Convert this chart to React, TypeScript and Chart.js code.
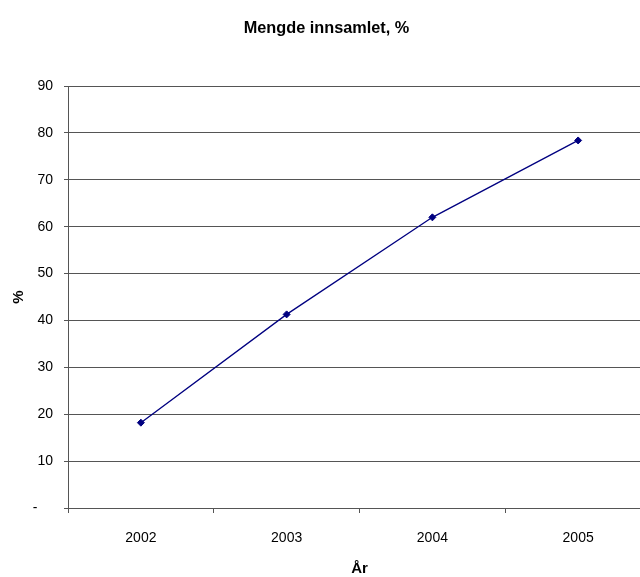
import React, { useEffect, useRef } from "react";
import { Chart, registerables } from "chart.js";

Chart.register(...registerables);

const TITLE = "Mengde innsamlet, %";
const CATEGORIES = ["2002", "2003", "2004", "2005"];
const VALUES = [18.2, 41.3, 62.0, 78.4];
const Y_TICKS = [0, 10, 20, 30, 40, 50, 60, 70, 80, 90];
const X_TITLE = "År";
const Y_TITLE = "%";

const FONT = "'Liberation Sans', Arial, sans-serif";
const GRID = "#555555";
const NAVY = "#000080";

export default function App() {
  const ref = useRef<HTMLCanvasElement | null>(null);

  useEffect(() => {
    if (!ref.current) return;
    const chart = new Chart(ref.current, {
      type: "line",
      data: {
        labels: CATEGORIES,
        datasets: [
          {
            data: VALUES,
            borderColor: NAVY,
            backgroundColor: NAVY,
            borderWidth: 1.3,
            pointStyle: "rectRot",
            pointRadius: 3.5,
            pointBorderWidth: 1,
            tension: 0,
          },
        ],
      },
      options: {
        animation: false,
        responsive: false,
        maintainAspectRatio: false,
        layout: { padding: { left: 0, right: 3, top: 0, bottom: 0 } },
        plugins: {
          legend: { display: false },
          tooltip: { enabled: false },
          title: {
            display: true,
            text: TITLE,
            color: "#000",
            font: { family: FONT, size: 16.3, weight: "bold", lineHeight: 1.2 },
            padding: { top: 18.5, bottom: 48 },
          },
        },
        scales: {
          x: {
            type: "category",
            offset: true,
            afterFit: (s: any) => {
              s.height = 69;
            },
            grid: {
              offset: true,
              drawOnChartArea: false,
              drawTicks: true,
              tickLength: 5,
              color: GRID,
            },
            border: { display: true, color: GRID, width: 1 },
            ticks: {
              color: "#000",
              font: { family: FONT, size: 14 },
              padding: 17,
              maxRotation: 0,
            },
            title: {
              display: true,
              text: X_TITLE,
              color: "#000",
              font: { family: FONT, size: 15, weight: "bold", lineHeight: 1 },
              padding: { top: 0, bottom: 1 },
            },
          },
          y: {
            min: 0,
            max: 90,
            afterFit: (s: any) => {
              s.width = 68;
            },
            afterBuildTicks: (s: any) => {
              s.ticks = Y_TICKS.map((v) => ({ value: v }));
            },
            grid: {
              color: GRID,
              drawTicks: true,
              tickLength: 4,
            },
            border: { display: true, color: GRID, width: 1 },
            ticks: {
              color: "#000",
              font: { family: FONT, size: 14 },
              padding: 11,
              callback: (v: any) => (Number(v) === 0 ? "-    " : String(v)),
            },
            title: {
              display: true,
              text: Y_TITLE,
              color: "#000",
              font: { family: FONT, size: 15, weight: "bold", lineHeight: 1 },
              padding: { top: 11, bottom: 0 },
            },
          },
        },
      },
    });
    return () => chart.destroy();
  }, []);

  return (
    <div
      style={{
        position: "absolute",
        left: 0,
        top: 0,
        width: 640,
        height: 577,
        overflow: "hidden",
        background: "#fff",
      }}
    >
      <canvas ref={ref} width={656} height={577} style={{ display: "block", width: 656, height: 577 }} />
    </div>
  );
}
